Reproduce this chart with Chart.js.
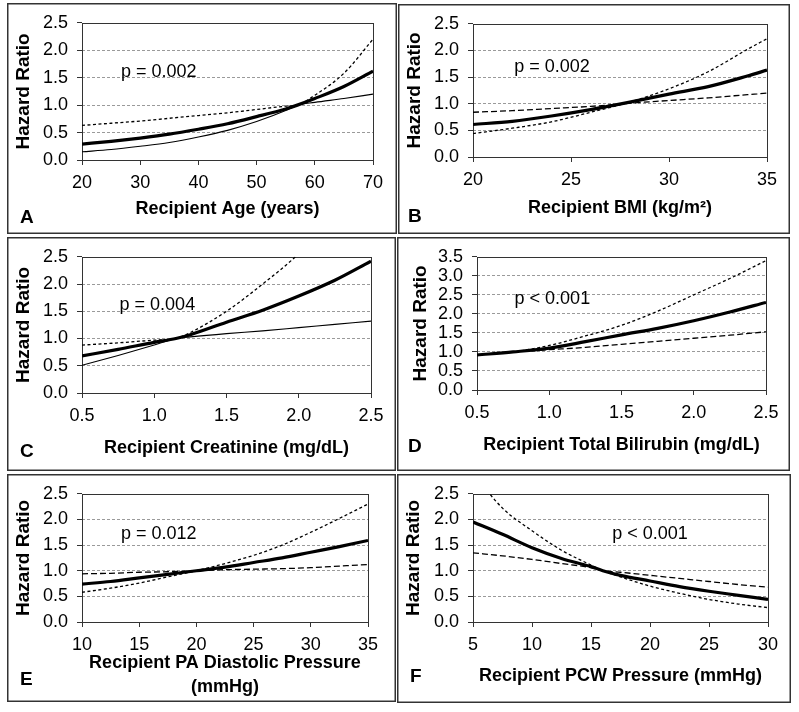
<!DOCTYPE html>
<html>
<head>
<meta charset="utf-8">
<script src="https://cdn.jsdelivr.net/npm/chart.js@4.4.1/dist/chart.umd.min.js"></script>
<style>
  html, body { margin: 0; padding: 0; background: #fff; }
  body { position: relative; width: 799px; height: 712px; overflow: hidden; }
  canvas { position: absolute; }
</style>
</head>
<body>
<canvas id="panelA"></canvas>
<canvas id="panelB"></canvas>
<canvas id="panelC"></canvas>
<canvas id="panelD"></canvas>
<canvas id="panelE"></canvas>
<canvas id="panelF"></canvas>
<script>
// A - recipient age
const ageX     = [20, 25, 30, 35, 40, 45, 50, 55, 57, 60, 65, 70];
const ageHR    = [0.29, 0.34, 0.40, 0.47, 0.56, 0.66, 0.79, 0.93, 1.0, 1.12, 1.34, 1.62];
const ageUpper = [0.63, 0.67, 0.71, 0.76, 0.81, 0.86, 0.92, 0.98, 1.0, 1.18, 1.58, 2.20];
const ageLower = [0.15, 0.19, 0.25, 0.32, 0.42, 0.54, 0.70, 0.90, 1.0, 1.05, 1.12, 1.20];

// B - recipient BMI
const bmiX     = [20, 22, 24, 26, 28, 30, 32, 34, 35];
const bmiHR    = [0.61, 0.67, 0.77, 0.89, 1.03, 1.18, 1.32, 1.52, 1.63];
const bmiFlat  = [0.84, 0.87, 0.91, 0.95, 1.01, 1.06, 1.11, 1.17, 1.20];
const bmiSteep = [0.44, 0.54, 0.66, 0.84, 1.03, 1.28, 1.60, 2.02, 2.22];

// C - recipient creatinine
const creatX     = [0.5, 0.75, 1.0, 1.15, 1.25, 1.5, 1.75, 2.0, 2.25, 2.5];
const creatHR    = [0.68, 0.80, 0.93, 1.0, 1.07, 1.30, 1.52, 1.78, 2.07, 2.42];
const creatUpper = [0.88, 0.92, 0.97, 1.0, 1.11, 1.50, 2.00, 2.56, 3.30, 4.30];
const creatLower = [0.51, 0.69, 0.88, 1.0, 1.03, 1.09, 1.14, 1.20, 1.26, 1.32];

// D - recipient total bilirubin
const biliX     = [0.5, 0.75, 1.0, 1.25, 1.5, 1.75, 2.0, 2.25, 2.5];
const biliHR    = [0.92, 1.0, 1.10, 1.27, 1.45, 1.62, 1.82, 2.05, 2.30];
const biliUpper = [0.93, 1.0, 1.17, 1.42, 1.70, 2.07, 2.50, 2.93, 3.40];
const biliLower = [0.92, 1.0, 1.06, 1.12, 1.20, 1.28, 1.36, 1.44, 1.53];

// E - recipient PA diastolic pressure
const paX     = [10, 12.5, 15, 17.5, 20, 22.5, 25, 27.5, 30, 32.5, 35];
const paHR    = [0.74, 0.79, 0.86, 0.93, 1.0, 1.07, 1.16, 1.25, 1.36, 1.47, 1.59];
const paSteep = [0.58, 0.66, 0.76, 0.88, 1.0, 1.14, 1.30, 1.50, 1.75, 2.02, 2.30];
const paFlat  = [0.94, 0.95, 0.97, 0.98, 1.0, 1.02, 1.03, 1.04, 1.06, 1.09, 1.12];

// F - recipient PCW pressure
const pcwX     = [5, 7.5, 10, 12.5, 15, 16, 17.5, 20, 22.5, 25, 27.5, 30];
const pcwHR    = [1.95, 1.71, 1.45, 1.24, 1.08, 1.0, 0.91, 0.80, 0.69, 0.60, 0.52, 0.44];
const pcwSteep = [2.90, 2.22, 1.78, 1.40, 1.11, 1.0, 0.88, 0.70, 0.56, 0.44, 0.35, 0.28];
const pcwFlat  = [1.35, 1.29, 1.22, 1.14, 1.06, 1.0, 0.97, 0.91, 0.85, 0.79, 0.73, 0.68];

const FONT = '"Liberation Sans", Arial, Helvetica, sans-serif';
Chart.defaults.font.family = FONT;
Chart.defaults.font.size = 18;
Chart.defaults.color = '#000';

const MAIN = { width: 3.2 };
const SHORT_DASH = { width: 1.3, dash: [3, 2.5] };
const LONG_DASH = { width: 1.3, dash: [6, 3] };
const THIN = { width: 1.1 };

const panels = [
  { id: 'panelA', box: [7, 3, 390, 231], area: { left: 75, top: 14, right: 366, bottom: 157 },
    xs: ageX, xMin: 20, xMax: 70, xStep: 10, xDec: 0, yMax: 2.5,
    xTitle: 'Recipient Age (years)', xTitlePad: 13, yTitlePad: 5,
    letter: 'A', letterPos: [13, 220], pText: 'p = 0.002', pAt: [26.7, 1.52],
    series: [[ageHR, MAIN], [ageUpper, SHORT_DASH], [ageLower, THIN]] },
  { id: 'panelB', box: [398, 4, 392, 230], area: { left: 75, top: 13, right: 369, bottom: 153 },
    xs: bmiX, xMin: 20, xMax: 35, xStep: 5, xDec: 0, yMax: 2.5,
    xTitle: 'Recipient BMI (kg/m\u00B2)', xTitlePad: 14, yTitlePad: 5,
    letter: 'B', letterPos: [10, 218], pText: 'p = 0.002', pAt: [22.1, 1.59],
    series: [[bmiHR, MAIN], [bmiFlat, LONG_DASH], [bmiSteep, SHORT_DASH]] },
  { id: 'panelC', box: [7, 237, 389, 234], area: { left: 75, top: 15, right: 364, bottom: 156 },
    xs: creatX, xMin: 0.5, xMax: 2.5, xStep: 0.5, xDec: 1, yMax: 2.5,
    xTitle: 'Recipient Creatinine (mg/dL)', xTitlePad: 11, yTitlePad: 5,
    letter: 'C', letterPos: [13, 220], pText: 'p = 0.004', pAt: [0.76, 1.52],
    series: [[creatHR, MAIN], [creatUpper, SHORT_DASH], [creatLower, THIN]] },
  { id: 'panelD', box: [397, 237, 393, 234], area: { left: 80, top: 16, right: 369, bottom: 153 },
    xs: biliX, xMin: 0.5, xMax: 2.5, xStep: 0.5, xDec: 1, yMax: 3.5,
    xTitle: 'Recipient Total Bilirubin (mg/dL)', xTitlePad: 14, yTitlePad: 12,
    letter: 'D', letterPos: [11, 215], pText: 'p < 0.001', pAt: [0.76, 2.27],
    series: [[biliHR, MAIN], [biliUpper, SHORT_DASH], [biliLower, LONG_DASH]] },
  { id: 'panelE', box: [7, 474, 389, 228], area: { left: 75, top: 13, right: 361, bottom: 148 },
    xs: paX, xMin: 10, xMax: 35, xStep: 5, xDec: 0, yMax: 2.5,
    xTitle: ['Recipient PA Diastolic Pressure', '(mmHg)'], xTitlePad: 3, yTitlePad: 5,
    letter: 'E', letterPos: [13, 211], pText: 'p = 0.012', pAt: [13.4, 1.61],
    series: [[paHR, MAIN], [paSteep, SHORT_DASH], [paFlat, LONG_DASH]] },
  { id: 'panelF', box: [397, 474, 394, 229], area: { left: 76, top: 13, right: 371, bottom: 148 },
    xs: pcwX, xMin: 5, xMax: 30, xStep: 5, xDec: 0, yMax: 2.5,
    xTitle: 'Recipient PCW Pressure (mmHg)', xTitlePad: 15, yTitlePad: 5,
    letter: 'F', letterPos: [13, 208], pText: 'p < 0.001', pAt: [16.8, 1.61],
    series: [[pcwHR, MAIN], [pcwSteep, SHORT_DASH], [pcwFlat, LONG_DASH]] }
];

// plot box, panel frame, panel letter and p-value
const panelDecor = {
  id: 'panelDecor',
  beforeDatasetsDraw(chart, args, o) {
    const { ctx, chartArea: a } = chart;
    ctx.save();
    ctx.strokeStyle = '#333';
    ctx.lineWidth = 1;
    ctx.strokeRect(Math.round(a.left) + 0.5, Math.round(a.top) + 0.5,
      Math.round(a.right - a.left), Math.round(a.bottom - a.top));
    ctx.restore();
  },
  afterDraw(chart, args, o) {
    const { ctx, width, height } = chart;
    const sx = chart.scales.x, sy = chart.scales.y;
    ctx.save();
    ctx.strokeStyle = '#333';
    ctx.lineWidth = 1.5;
    ctx.strokeRect(0.75, 0.75, width - 1.5, height - 1.5);
    ctx.fillStyle = '#000';
    ctx.textBaseline = 'alphabetic';
    ctx.font = 'bold 19px ' + FONT;
    ctx.fillText(o.letter, o.letterPos[0], o.letterPos[1]);
    ctx.font = '18px ' + FONT;
    ctx.fillText(o.pText, sx.getPixelForValue(o.pAt[0]), sy.getPixelForValue(o.pAt[1]));
    ctx.restore();
  }
};

panels.forEach(p => {
  const canvas = document.getElementById(p.id);
  canvas.width = p.box[2];
  canvas.height = p.box[3];
  canvas.style.left = p.box[0] + 'px';
  canvas.style.top = p.box[1] + 'px';
  const yEdge = ctx => (ctx.tick.value === 0 || ctx.tick.value === p.yMax) ? 'rgba(0,0,0,0)' : '#9a9a9a';

  new Chart(canvas, {
    type: 'line',
    data: {
      datasets: p.series.map(([vals, st]) => ({
        data: p.xs.map((x, i) => ({ x: x, y: vals[i] })),
        borderColor: '#000',
        borderWidth: st.width,
        borderDash: st.dash || [],
        pointRadius: 0,
        fill: false,
        cubicInterpolationMode: 'monotone'
      }))
    },
    options: {
      responsive: false,
      animation: false,
      events: [],
      layout: { padding: { left: 0, top: p.area.top, right: p.box[2] - p.area.right, bottom: 0 } },
      plugins: {
        legend: { display: false },
        tooltip: { enabled: false },
        panelDecor: { letter: p.letter, letterPos: p.letterPos, pText: p.pText, pAt: p.pAt }
      },
      scales: {
        x: {
          type: 'linear', min: p.xMin, max: p.xMax,
          afterFit: s => { s.height = p.box[3] - p.area.bottom; },
          ticks: { stepSize: p.xStep, padding: 7, color: '#000', font: { family: FONT, size: 18 },
            maxRotation: 0, autoSkip: false,
            callback: v => v.toFixed(p.xDec) },
          grid: { drawOnChartArea: false, drawTicks: true, tickLength: 5, tickColor: '#333' },
          border: { display: false },
          title: { display: true, text: p.xTitle, color: '#000',
            font: { family: FONT, size: 18, weight: 'bold', lineHeight: 1.33 },
            padding: { top: 0, bottom: p.xTitlePad } }
        },
        y: {
          min: 0, max: p.yMax,
          afterFit: s => { s.width = p.area.left; },
          ticks: { stepSize: 0.5, padding: 9, color: '#000', font: { family: FONT, size: 18 },
            autoSkip: false,
            callback: v => v.toFixed(1) },
          grid: { color: yEdge, lineWidth: 1, drawTicks: true, tickLength: 5, tickColor: '#333' },
          border: { display: false, dash: [3, 2] },
          title: { display: true, text: 'Hazard Ratio', color: '#000',
            font: { family: FONT, size: 19, weight: 'bold' },
            padding: { top: p.yTitlePad, bottom: 0 } }
        }
      }
    },
    plugins: [panelDecor]
  });
});
</script>
</body>
</html>
